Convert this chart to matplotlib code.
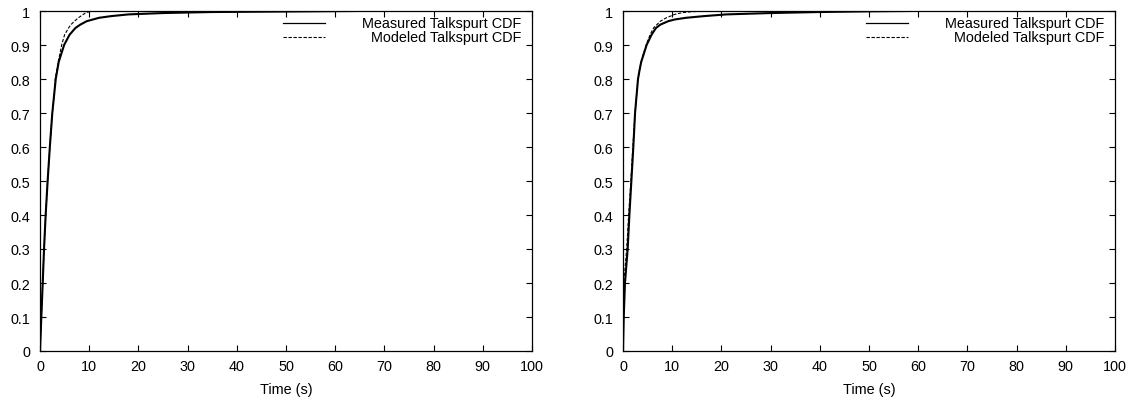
import matplotlib
matplotlib.use("Agg")
import matplotlib.pyplot as plt

# ---- data ----
left_measured_x = [0, 0.27, 0.55, 0.82, 1.15, 1.55, 2.0, 2.5, 2.85, 3.2, 3.8, 4.9, 6.0, 7.2, 8.2, 9.5, 12.0, 14.5, 18.0, 25, 35, 45, 55, 64]
left_measured_y = [0, 0.1, 0.2, 0.3, 0.4, 0.5, 0.6, 0.7, 0.75, 0.8, 0.85, 0.9, 0.93, 0.95, 0.96, 0.97, 0.98, 0.985, 0.99, 0.994, 0.997, 0.998, 0.999, 1.0]
left_modeled_x = [0, 0.27, 0.55, 0.82, 1.15, 1.55, 2.0, 2.5, 2.85, 3.1, 3.7, 4.4, 5.0, 5.8, 6.3, 7.0, 7.8, 8.8, 9.3, 10.3, 11, 100]
left_modeled_y = [0, 0.1, 0.2, 0.3, 0.4, 0.5, 0.6, 0.7, 0.75, 0.8, 0.85, 0.9, 0.93, 0.95, 0.96, 0.97, 0.98, 0.99, 0.995, 0.999, 1.0, 1.0]

right_measured_x = [0, 0.15, 0.4, 0.95, 1.3, 1.7, 2.1, 2.45, 2.75, 3.05, 3.35, 3.7, 4.8, 5.8, 6.7, 7.6, 9.2, 10.5, 12.8, 16.5, 21, 30, 40, 50, 58]
right_measured_y = [0, 0.1, 0.2, 0.3, 0.4, 0.5, 0.6, 0.7, 0.75, 0.8, 0.825, 0.85, 0.9, 0.93, 0.95, 0.96, 0.97, 0.975, 0.98, 0.985, 0.99, 0.994, 0.997, 0.999, 1.0]
right_modeled_x = [0, 0.05, 0.15, 0.75, 1.15, 1.6, 2.0, 2.45, 2.75, 3.05, 3.65, 4.7, 5.5, 6.2, 7.6, 8.8, 10.5, 12.0, 14.0, 17.0, 100]
right_modeled_y = [0, 0.1, 0.2, 0.3, 0.4, 0.5, 0.6, 0.7, 0.75, 0.8, 0.85, 0.9, 0.93, 0.95, 0.97, 0.98, 0.99, 0.995, 0.998, 1.0, 1.0]

x_ticks = list(range(0, 101, 10))
y_ticks = [0, 0.1, 0.2, 0.3, 0.4, 0.5, 0.6, 0.7, 0.8, 0.9, 1]
y_tick_labels = ["0", "0.1", "0.2", "0.3", "0.4", "0.5", "0.6", "0.7", "0.8", "0.9", "1"]
labels = ["Measured Talkspurt CDF", "Modeled Talkspurt CDF"]
x_label = "Time (s)"

plt.rcParams['font.family'] = ['Liberation Sans', 'DejaVu Sans']
FS = 10.4

W, H = 1139, 402
fig = plt.figure(figsize=(W / 100, H / 100), dpi=100)

panels = [
    (40, left_measured_x, left_measured_y, left_modeled_x, left_modeled_y),
    (623, right_measured_x, right_measured_y, right_modeled_x, right_modeled_y),
]

for x0, mx, my, dx, dy in panels:
    ax = fig.add_axes([x0 / W, 1 - 352 / H, 492 / W, 340 / H])
    ax.plot(mx, my, color='black', lw=1.5, solid_joinstyle='round')
    ax.plot(dx, dy, color='black', lw=0.8, dashes=(3, 1.5))
    ax.set_xlim(0, 100)
    ax.set_ylim(0, 1)
    ax.set_xticks(x_ticks)
    ax.set_xticklabels([str(t) for t in x_ticks])
    ax.set_yticks(y_ticks)
    ax.set_yticklabels(y_tick_labels)
    ax.tick_params(direction='in', length=4, width=0.8, top=True, right=True,
                   labelsize=FS, pad=6)
    ax.tick_params(axis='y', pad=7)
    for s in ax.spines.values():
        s.set_linewidth(0.9)
    ax.set_xlabel(x_label, fontsize=FS, labelpad=6)

    # key (sample line at left, right-justified text)
    ys = [0.965, 0.924]
    styles = [dict(color='black', lw=0.9), dict(color='black', lw=0.8, dashes=(3, 1.5))]
    for lab, yk, st in zip(labels, ys, styles):
        ax.plot([0.494, 0.579], [yk, yk], transform=ax.transAxes, clip_on=False, **st)
        ax.text(0.979, yk, lab, transform=ax.transAxes, ha='right', va='center', fontsize=FS)

fig.savefig("out.png", dpi=100)
